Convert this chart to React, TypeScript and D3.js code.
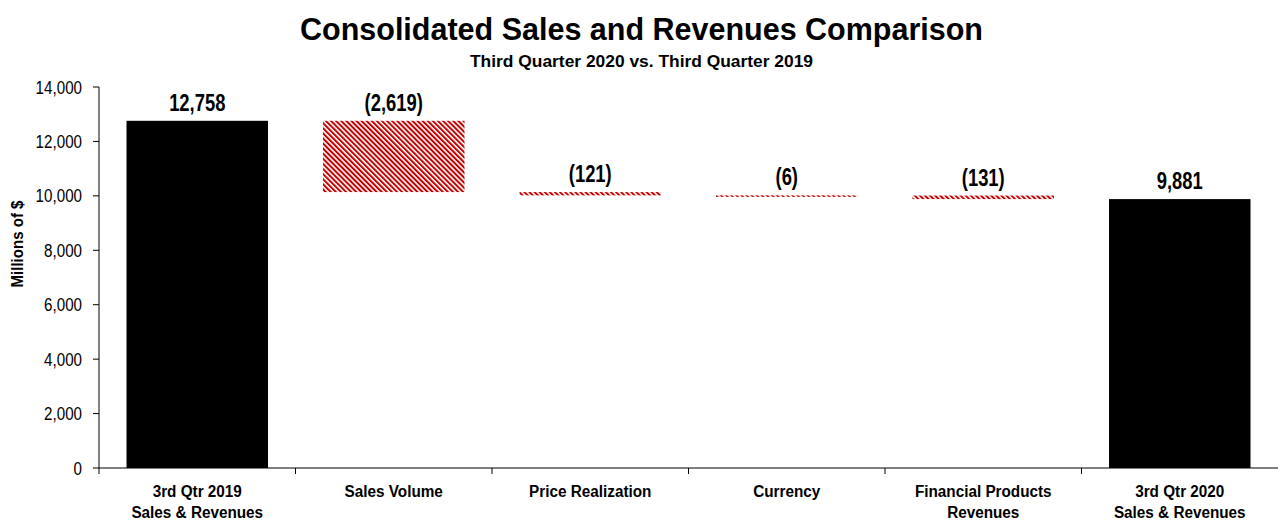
import { scaleBand, scaleLinear, format } from "d3";

const categories = [
  "3rd Qtr 2019|Sales & Revenues",
  "Sales Volume",
  "Price Realization",
  "Currency",
  "Financial Products|Revenues",
  "3rd Qtr 2020|Sales & Revenues",
];
const startValue = 12758;
const changes = [-2619, -121, -6, -131];
const endValue = 9881;
const yTicks = [0, 2000, 4000, 6000, 8000, 10000, 12000, 14000];

const W = 1280;
const H = 527;
const FONT = "'Liberation Sans', Arial, sans-serif";

interface Step {
  label: string;
  y0: number;
  y1: number;
  total: boolean;
  text: string;
}

function buildSteps(): Step[] {
  const steps: Step[] = [];
  const fmt = format(",");
  steps.push({ label: categories[0], y0: 0, y1: startValue, total: true, text: fmt(startValue) });
  let run = startValue;
  changes.forEach((c, i) => {
    const next = run + c;
    steps.push({
      label: categories[i + 1],
      y0: Math.min(run, next),
      y1: Math.max(run, next),
      total: false,
      text: c < 0 ? `(${fmt(-c)})` : fmt(c),
    });
    run = next;
  });
  steps.push({ label: categories[5], y0: 0, y1: endValue, total: true, text: fmt(endValue) });
  return steps;
}

// narrow text: squeeze glyphs horizontally around the anchor point
function NText({ x, y, sx, children, ...rest }: any) {
  return (
    <text transform={`translate(${x},${y}) scale(${sx},1)`} {...rest}>
      {children}
    </text>
  );
}

export default function App() {
  const steps = buildSteps();
  const x = scaleBand<string>().domain(categories).range([99, 1278]).paddingInner(0.28).paddingOuter(0.14);
  const y = scaleLinear().domain([0, 14000]).range([468, 87]);
  const step = x.step();
  const x0 = 99;

  return (
    <svg width={W} height={H} style={{ position: "absolute", left: 0, top: 0, background: "#fff" }} fontFamily={FONT}>
      <defs>
        <pattern id="hatch" width="3.6" height="3.6" patternUnits="userSpaceOnUse" patternTransform="rotate(-45)">
          <rect width="3.6" height="3.6" fill="#fff" />
          <rect width="2" height="3.6" fill="#c00000" />
        </pattern>
      </defs>
      <text x={641.5} y={40} textAnchor="middle" fontSize={32} fontWeight="bold" textLength={683} lengthAdjust="spacingAndGlyphs">
        Consolidated Sales and Revenues Comparison
      </text>
      <text x={641.5} y={67} textAnchor="middle" fontSize={17} fontWeight="bold" textLength={343} lengthAdjust="spacingAndGlyphs">
        Third Quarter 2020 vs. Third Quarter 2019
      </text>
      <text transform={`translate(23,244) rotate(-90)`} textAnchor="middle" fontSize={16} fontWeight="bold" textLength={87} lengthAdjust="spacingAndGlyphs">
        Millions of $
      </text>

      {steps.map((s) => {
        const bx = x(s.label) ?? 0;
        const top = y(s.y1);
        const h = Math.max(y(s.y0) - top, 1.5);
        return (
          <g key={s.label}>
            <rect x={bx} y={top} width={x.bandwidth()} height={h} fill={s.total ? "#000" : "url(#hatch)"} />
            <NText x={bx + x.bandwidth() / 2} y={top - 10} sx={0.8} textAnchor="middle" fontSize={23} fontWeight="bold">
              {s.text}
            </NText>
          </g>
        );
      })}

      {/* y axis */}
      <line x1={x0} x2={x0} y1={y(14000)} y2={y(0)} stroke="#000" />
      {yTicks.map((t) => (
        <g key={t}>
          <line x1={x0 - 6} x2={x0} y1={y(t)} y2={y(t)} stroke="#000" />
          <NText x={82} y={y(t) + 6.5} sx={0.82} textAnchor="end" fontSize={18.5}>
            {format(",")(t)}
          </NText>
        </g>
      ))}

      {/* x axis */}
      <line x1={x0} x2={1278} y1={y(0)} y2={y(0)} stroke="#000" />
      {categories.map((c, i) => (
        <line key={`t${i}`} x1={x0 + i * step} x2={x0 + i * step} y1={y(0)} y2={y(0) + 6} stroke="#000" />
      ))}
      {categories.map((c) => {
        const lines = c.split("|");
        const cx = (x(c) ?? 0) + x.bandwidth() / 2;
        return (
          <g key={c}>
            {lines.map((l, j) => (
              <NText key={j} x={cx} y={497 + j * 21} sx={0.9} textAnchor="middle" fontSize={17} fontWeight="bold">
                {l}
              </NText>
            ))}
          </g>
        );
      })}
    </svg>
  );
}
